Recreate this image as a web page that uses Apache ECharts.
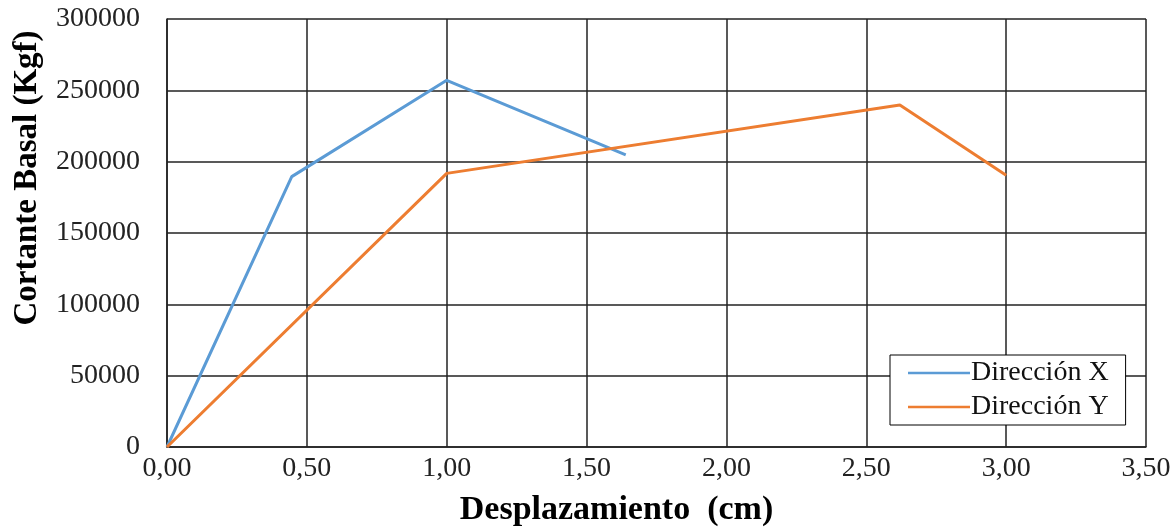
<!DOCTYPE html>
<html>
<head>
<meta charset="utf-8">
<script src="https://cdn.jsdelivr.net/npm/echarts@6/dist/echarts.min.js"></script>
<style>
  html, body { margin: 0; padding: 0; background: #fff; }
  #chart { width: 1176px; height: 529px; }
</style>
</head>
<body>
<div id="chart"></div>
<script>
// valores
var seriesNames = ['Dirección X', 'Dirección Y'];
var despX = [0, 0.446, 1.0, 1.64];
var cortanteX = [0, 189500, 257000, 204700];
var despY = [0, 1.0, 2.62, 3.0];
var cortanteY = [0, 191800, 239700, 190500];

function pares(xs, ys) {
    return xs.map(function (x, i) { return [x, ys[i]]; });
}

var chart = echarts.init(document.getElementById('chart'));
var fuente = '"Liberation Serif", "DejaVu Serif", serif';

chart.setOption({
    animation: false,
    backgroundColor: '#fff',
    grid: { left: 167, right: 30, top: 19, bottom: 82, outerBoundsMode: 'none', containLabel: false },
    legend: {
        data: seriesNames,
        orient: 'vertical',
        left: 890,
        top: 355,
        icon: 'rect',
        itemWidth: 62,
        itemHeight: 2.5,
        itemGap: 6,
        padding: [4, 17, 4, 18],
        backgroundColor: '#fff',
        borderColor: '#000',
        borderWidth: 1,
        textStyle: { fontFamily: fuente, fontSize: 28, color: '#111', padding: [0, 0, 0, -4] }
    },
    xAxis: {
        type: 'value',
        min: 0,
        max: 3.5,
        interval: 0.5,
        name: 'Desplazamiento  (cm)',
        nameLocation: 'middle',
        nameGap: 46,
        nameTextStyle: { fontFamily: fuente, fontSize: 34, fontWeight: 'bold', color: '#000', padding: [0, 80, 0, 0] },
        axisLine: { show: true, lineStyle: { color: '#222', width: 1.5 } },
        axisTick: { show: false },
        axisLabel: {
            fontFamily: fuente, fontSize: 28, color: '#222', margin: 8,
            formatter: function (v) { return v.toFixed(2).replace('.', ','); }
        },
        splitLine: { show: true, lineStyle: { color: '#222', width: 1.5 } }
    },
    yAxis: {
        type: 'value',
        min: 0,
        max: 300000,
        interval: 50000,
        name: 'Cortante Basal (Kgf)',
        nameLocation: 'middle',
        nameGap: 123,
        nameTextStyle: { fontFamily: fuente, fontSize: 33, fontWeight: 'bold', color: '#000', padding: [0, 0, 0, 110] },
        axisLine: { show: true, lineStyle: { color: '#222', width: 1.5 } },
        axisTick: { show: false },
        axisLabel: {
            fontFamily: fuente, fontSize: 28, color: '#222', margin: 27,
            formatter: function (v) { return String(v); }
        },
        splitLine: { show: true, lineStyle: { color: '#222', width: 1.5 } }
    },
    series: [
        {
            name: seriesNames[0],
            type: 'line',
            data: pares(despX, cortanteX),
            showSymbol: false,
            itemStyle: { color: '#5B9BD5' },
            lineStyle: { color: '#5B9BD5', width: 3 }
        },
        {
            name: seriesNames[1],
            type: 'line',
            data: pares(despY, cortanteY),
            showSymbol: false,
            itemStyle: { color: '#ED7D31' },
            lineStyle: { color: '#ED7D31', width: 3 }
        }
    ]
});
</script>
</body>
</html>
